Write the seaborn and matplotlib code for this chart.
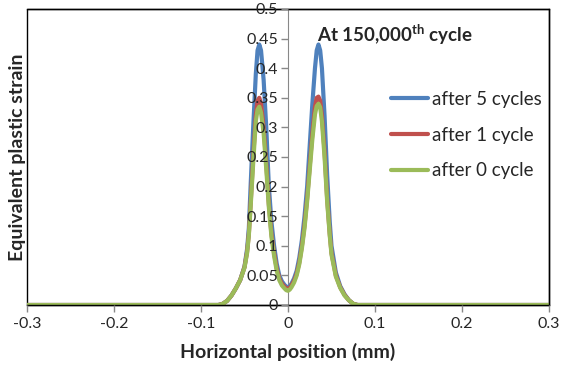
import matplotlib
matplotlib.use("Agg")
import matplotlib.pyplot as plt
import seaborn as sns
import pandas as pd

# horizontal position (mm) and equivalent plastic strain for each case
position = [-0.3, -0.2, -0.1, -0.08, -0.075, -0.07, -0.065, -0.06, -0.055, -0.05,
            -0.047, -0.045, -0.043, -0.04, -0.037, -0.035, -0.033, -0.031, -0.028, -0.025,
            -0.022, -0.019, -0.016, -0.013, -0.01, -0.007, -0.004, -0.002, 0, 0.002,
            0.004, 0.007, 0.01, 0.013, 0.016, 0.019, 0.022, 0.025, 0.028, 0.031,
            0.033, 0.035, 0.037, 0.039, 0.042, 0.045, 0.048, 0.05, 0.055, 0.06,
            0.065, 0.07, 0.075, 0.08, 0.1, 0.2, 0.3]
after_5 = [0, 0, 0, 0, 0.002, 0.007, 0.016, 0.028, 0.042, 0.065,
           0.095, 0.13, 0.2, 0.3, 0.39, 0.43, 0.44, 0.43, 0.38, 0.3,
           0.2, 0.14, 0.1, 0.07, 0.05, 0.04, 0.034, 0.031, 0.03, 0.032,
           0.036, 0.045, 0.058, 0.08, 0.11, 0.15, 0.2, 0.27, 0.34, 0.40,
           0.43, 0.44, 0.43, 0.40, 0.32, 0.22, 0.14, 0.1, 0.055, 0.032,
           0.018, 0.008, 0.002, 0, 0, 0, 0]
after_1 = [0, 0, 0, 0, 0.002, 0.007, 0.016, 0.028, 0.042, 0.064,
           0.09, 0.12, 0.17, 0.25, 0.32, 0.345, 0.35, 0.34, 0.3, 0.24,
           0.17, 0.12, 0.088, 0.062, 0.045, 0.036, 0.031, 0.028, 0.027, 0.029,
           0.033, 0.041, 0.053, 0.072, 0.1, 0.135, 0.18, 0.235, 0.29, 0.335,
           0.35, 0.352, 0.345, 0.32, 0.26, 0.18, 0.12, 0.088, 0.05, 0.03,
           0.017, 0.008, 0.002, 0, 0, 0, 0]
after_0 = [0, 0, 0, 0, 0.002, 0.007, 0.016, 0.028, 0.042, 0.063,
           0.088, 0.118, 0.165, 0.24, 0.31, 0.33, 0.335, 0.325, 0.29, 0.23,
           0.165, 0.115, 0.083, 0.058, 0.042, 0.033, 0.028, 0.025, 0.024, 0.026,
           0.03, 0.038, 0.05, 0.069, 0.096, 0.13, 0.175, 0.228, 0.28, 0.322,
           0.336, 0.34, 0.334, 0.31, 0.25, 0.175, 0.117, 0.085, 0.048, 0.029,
           0.016, 0.008, 0.002, 0, 0, 0, 0]

labels = ["after 5 cycles", "after 1 cycle", "after 0 cycle"]
colors = ["#4F81BD", "#C0504D", "#9BBB59"]

frames = []
for lab, vals in zip(labels, [after_5, after_1, after_0]):
    frames.append(pd.DataFrame({"x": position, "y": vals, "case": lab}))
df = pd.concat(frames, ignore_index=True)

sns.set_style("white")
plt.rcParams["font.family"] = ["Lato", "DejaVu Sans"]
plt.rcParams["mathtext.fontset"] = "custom"
plt.rcParams["mathtext.bf"] = "Lato:bold"
plt.rcParams["mathtext.rm"] = "Lato"

fig = plt.figure(figsize=(5.72, 3.72), dpi=100)
ax = fig.add_axes([27 / 572, 67 / 372, 522 / 572, 296 / 372])
ax.set_axisbelow(False)

sns.lineplot(data=df, x="x", y="y", hue="case", hue_order=labels,
             palette=colors, linewidth=3.0, sort=False, ax=ax)

ax.set_xlim(-0.3, 0.3)
ax.set_ylim(0, 0.5)
ax.set_xticks([-0.3, -0.2, -0.1, 0, 0.1, 0.2, 0.3])
ax.set_xticklabels(["-0.3", "-0.2", "-0.1", "0", "0.1", "0.2", "0.3"])
ax.set_yticks([0, 0.05, 0.1, 0.15, 0.2, 0.25, 0.3, 0.35, 0.4, 0.45, 0.5])
ax.set_yticklabels(["0", "0.05", "0.1", "0.15", "0.2", "0.25", "0.3", "0.35",
                    "0.4", "0.45", "0.5"])

# center vertical axis in gray, black frame around plot area
ax.spines["left"].set_position(("data", 0))
ax.spines["left"].set_color("#888888")
ax.spines["left"].set_zorder(1)
for s in ["top", "right", "bottom"]:
    ax.spines[s].set_color("black")
    ax.spines[s].set_linewidth(1.0)
ax.patch.set_edgecolor("black")
ax.patch.set_linewidth(1.0)

ax.tick_params(axis="y", direction="out", length=5, width=1, color="#888888",
               labelsize=11.5, pad=2, left=True)
ax.tick_params(axis="x", direction="out", length=5, width=1, color="#888888",
               labelsize=11.5, pad=4, bottom=True)

ax.set_xlabel("Horizontal position (mm)", fontsize=14, fontweight="bold", labelpad=8)
ax.set_ylabel("")
fig.text(18 / 572, 0.5 + (372 / 2 - 157) / 372, "Equivalent plastic strain",
         rotation=90, fontsize=14, fontweight="bold", ha="center", va="center")

ax.text(0.556, 0.912, r"At 150,000$^{\mathbf{th}}$ cycle", transform=ax.transAxes,
        fontsize=13.5, fontweight="bold", ha="left", va="center")

ax.legend(loc="upper left", bbox_to_anchor=(0.697, 0.723), frameon=False,
          fontsize=13.5, handlelength=2.0, handletextpad=0.2, labelspacing=1.0,
          borderpad=0, borderaxespad=0)

fig.savefig("out.png", dpi=100)
